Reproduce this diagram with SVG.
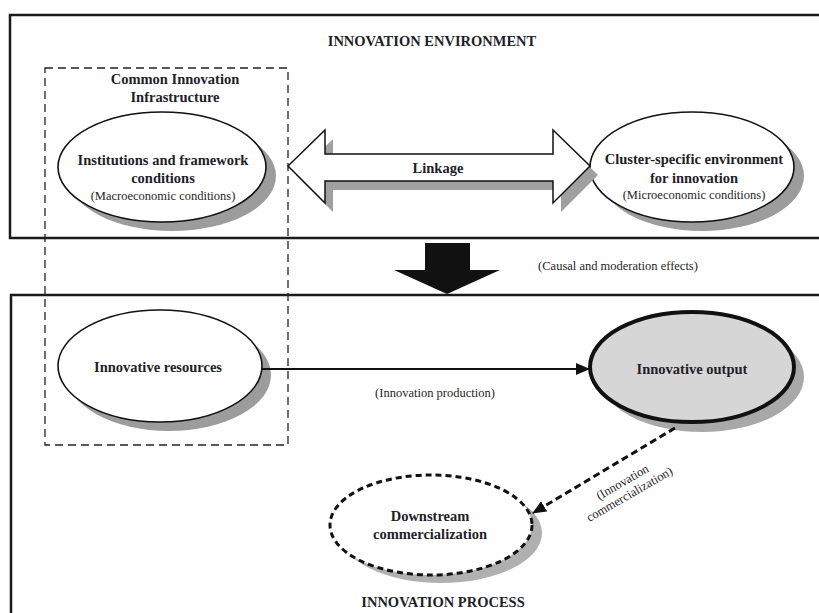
<svg xmlns="http://www.w3.org/2000/svg" width="819" height="613" viewBox="0 0 819 613">
  <defs>
    <style>
      .box { fill: none; stroke: #1a1a1a; stroke-width: 2.5; }
      .t { font-family: "Liberation Serif", "Times New Roman", serif; fill: #1e1e2a; text-anchor: middle; }
      .b { font-weight: bold; font-size: 14.5px; }
      .s { font-size: 12.5px; }
      .h { font-weight: bold; font-size: 14.5px; }
      .node { fill: #fff; stroke: #111; stroke-width: 1.6; }
      .shadow { fill: #9c9c9c; }
    </style>
    <marker id="arr2" markerWidth="14" markerHeight="12" refX="13" refY="6" orient="auto" markerUnits="userSpaceOnUse">
      <path d="M0,0 L14,6 L0,12 z" fill="#111"/>
    </marker>
    <path id="linkShape" d="M288,166 L325,130 L325,154 L553,154 L553,130 L590,166 L553,203 L553,181 L325,181 L325,203 z"/>
  </defs>
  <rect width="819" height="613" fill="#fff"/>

  <!-- Frames -->
  <g id="environment-frame">
    <rect class="box" x="10" y="15" width="815" height="223"/>
    <text class="t h" x="432" y="46">INNOVATION ENVIRONMENT</text>
  </g>
  <g id="process-frame">
    <rect class="box" x="11" y="295" width="815" height="330"/>
    <text class="t h" x="443" y="607">INNOVATION PROCESS</text>
  </g>

  <!-- Common infrastructure dashed region -->
  <g id="infrastructure">
    <rect x="45" y="68" width="243" height="377" fill="none" stroke="#222" stroke-width="1.3" stroke-dasharray="8,5"/>
    <text class="t b" x="175" y="84">Common Innovation</text>
    <text class="t b" x="175" y="102">Infrastructure</text>
  </g>

  <g id="institutions">
    <ellipse class="shadow" cx="172" cy="176" rx="104" ry="55"/>
    <ellipse class="node" cx="162" cy="167" rx="104" ry="55"/>
    <text class="t b" x="163" y="165">Institutions and framework</text>
    <text class="t b" x="163" y="183">conditions</text>
    <text class="t s" x="163" y="200">(Macroeconomic conditions)</text>
  </g>

  <g id="cluster">
    <ellipse class="shadow" cx="702" cy="176" rx="102" ry="55"/>
    <ellipse class="node" cx="692" cy="167" rx="102" ry="55"/>
    <text class="t b" x="694" y="164">Cluster-specific environment</text>
    <text class="t b" x="694" y="183">for innovation</text>
    <text class="t s" x="694" y="199">(Microeconomic conditions)</text>
  </g>

  <g id="linkage">
    <use href="#linkShape" transform="translate(8,9)" fill="#a0a0a0"/>
    <use href="#linkShape" fill="#fff" stroke="#111" stroke-width="1.5"/>
    <text class="t b" x="438" y="173">Linkage</text>
  </g>

  <g id="effects">
    <path d="M425,243 L470,243 L470,270 L500,270 L447,294 L394,270 L425,270 z" fill="#111"/>
    <text class="t s" x="618" y="270">(Causal and moderation effects)</text>
  </g>

  <g id="resources">
    <ellipse class="shadow" cx="169" cy="375" rx="102" ry="56"/>
    <ellipse class="node" cx="160" cy="366" rx="102" ry="56"/>
    <text class="t b" x="158" y="372">Innovative resources</text>
  </g>

  <g id="output">
    <ellipse cx="702" cy="377" rx="102" ry="55" fill="#a8a8a8"/>
    <ellipse cx="692" cy="367" rx="102" ry="55" fill="#d6d6d6" stroke="#111" stroke-width="4"/>
    <text class="t b" x="692" y="374">Innovative output</text>
  </g>

  <g id="downstream">
    <ellipse cx="441" cy="533" rx="101" ry="50" fill="#b0b0b0"/>
    <ellipse cx="431" cy="525" rx="101" ry="50" fill="#fff" stroke="#111" stroke-width="3" stroke-dasharray="6,4"/>
    <text class="t b" x="430" y="521">Downstream</text>
    <text class="t b" x="430" y="539">commercialization</text>
  </g>

  <!-- Connectors -->
  <g id="connectors">
    <line x1="262" y1="369" x2="589" y2="369" stroke="#111" stroke-width="2" marker-end="url(#arr2)"/>
    <text class="t s" x="435" y="397">(Innovation production)</text>
    <line x1="675" y1="428" x2="533" y2="513" stroke="#111" stroke-width="3" stroke-dasharray="7,4" marker-end="url(#arr2)"/>
    <g transform="translate(627,490) rotate(-30)">
      <text class="t s" x="0" y="-5">(Innovation</text>
      <text class="t s" x="0" y="9">commercialization)</text>
    </g>
  </g>
</svg>
